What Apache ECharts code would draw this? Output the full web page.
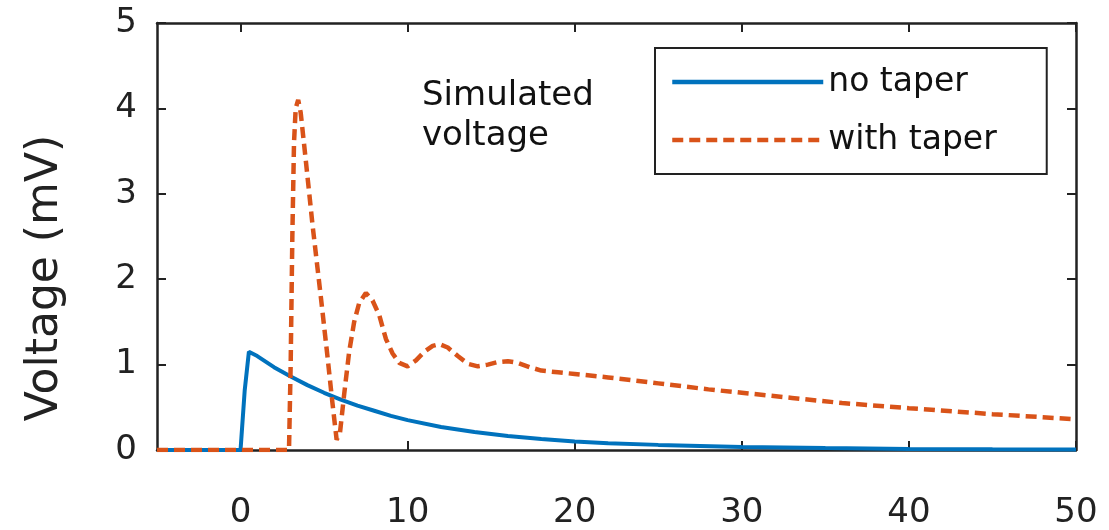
<!DOCTYPE html>
<html>
<head>
<meta charset="utf-8">
<script src="https://cdn.jsdelivr.net/npm/echarts@6/dist/echarts.min.js"></script>
<style>
  html, body { margin: 0; padding: 0; background: #fff; }
  #chart { width: 1109px; height: 530px; }
</style>
</head>
<body>
<div id="chart"></div>
<script>
'use strict';

// time (ms) and voltage (mV)
var noTaperT = [-5, 0, 0.25, 0.5, 1, 2, 3, 4, 5, 6, 7, 8, 9, 10, 12, 14, 16, 18, 20, 22, 25, 30, 35, 40, 45, 50];
var noTaperV = [0, 0, 0.7, 1.15, 1.1, 0.97, 0.86, 0.76, 0.67, 0.59, 0.52, 0.46, 0.40, 0.35, 0.27, 0.21, 0.165, 0.13, 0.10, 0.08, 0.06, 0.035, 0.022, 0.013, 0.008, 0.005];

var taperT = [-5, 2.9, 3.0, 3.1, 3.2, 3.3, 3.45, 3.6, 3.9, 4.3, 4.8, 5.2, 5.5, 5.75, 5.95, 6.2, 6.5, 6.8, 7.1, 7.5, 7.9, 8.3, 8.7, 9.1, 9.5, 10,
  10.5, 11, 11.5, 11.9, 12.4, 13, 13.6, 14.2, 14.8, 15.4, 16, 16.6, 17.3, 18, 19, 20, 22, 25, 28, 30, 33, 36, 40, 45, 50];
var taperV = [0, 0, 1.0, 2.5, 3.6, 4.0, 4.1, 3.95, 3.4, 2.65, 1.8, 1.1, 0.55, 0.12, 0.2, 0.65, 1.15, 1.5, 1.72, 1.84, 1.75, 1.58, 1.3, 1.13, 1.02, 0.98,
  1.05, 1.15, 1.22, 1.24, 1.2, 1.1, 1.01, 0.98, 1.0, 1.03, 1.04, 1.02, 0.97, 0.93, 0.91, 0.89, 0.85, 0.78, 0.71, 0.67, 0.61, 0.55, 0.49, 0.42, 0.36];

var xTicks = [0, 10, 20, 30, 40, 50];
var seriesNames = ['no taper', 'with taper'];

function zip(xs, ys) {
  return xs.map(function (x, i) { return [x, ys[i]]; });
}

var font = 'DejaVu Sans';
var axisLine = { show: true, onZero: false, lineStyle: { color: '#222', width: 2.5 } };
var tick = { show: true, inside: true, length: 9, lineStyle: { color: '#222', width: 2 } };

var chart = echarts.init(document.getElementById('chart'));
chart.setOption({
  animation: false,
  backgroundColor: '#fff',
  grid: { left: 157, right: 33, top: 23, bottom: 79 },
  legend: {
    orient: 'vertical',
    left: 655, top: 48,
    padding: [14, 50, 14, 15],
    itemGap: 18,
    itemWidth: 151,
    itemHeight: 14,
    borderColor: '#222',
    borderWidth: 2,
    itemStyle: { opacity: 0 },
    lineStyle: { width: 4.5, opacity: 1 },
    textStyle: { fontFamily: font, fontSize: 33, color: '#111', lineHeight: 40 },
    data: seriesNames
  },
  xAxis: [{
    type: 'value', min: -5, max: 50,
    axisLine: axisLine,
    axisTick: Object.assign({ customValues: xTicks }, tick),
    axisLabel: { customValues: xTicks, margin: 46, fontFamily: font, fontSize: 34, color: '#222' },
    splitLine: { show: false }
  }, {
    type: 'value', min: -5, max: 50, position: 'top',
    axisLine: axisLine,
    axisTick: Object.assign({ customValues: xTicks }, tick),
    axisLabel: { show: false },
    splitLine: { show: false }
  }],
  yAxis: [{
    type: 'value', min: 0, max: 5, interval: 1,
    axisLine: axisLine,
    axisTick: tick,
    axisLabel: { margin: 20, fontFamily: font, fontSize: 34, color: '#222' },
    splitLine: { show: false }
  }, {
    type: 'value', min: 0, max: 5, interval: 1, position: 'right',
    axisLine: axisLine,
    axisTick: tick,
    axisLabel: { show: false },
    splitLine: { show: false }
  }],
  graphic: [{
    type: 'text', x: 46, y: 278, rotation: Math.PI / 2,
    style: { text: 'Voltage (mV)', fontFamily: font, fontSize: 44, fill: '#222', align: 'center', verticalAlign: 'middle' }
  }, {
    type: 'text', left: 422, top: 76,
    style: { text: 'Simulated\nvoltage', fontFamily: font, fontSize: 34, lineHeight: 40, fill: '#111' }
  }],
  series: [{
    name: seriesNames[0], type: 'line', symbol: 'none',
    data: zip(noTaperT, noTaperV),
    lineStyle: { color: '#0072BD', width: 4 },
    itemStyle: { color: '#0072BD' }
  }, {
    name: seriesNames[1], type: 'line', symbol: 'none',
    data: zip(taperT, taperV),
    lineStyle: { color: '#D95319', width: 4.5, type: [11, 6] },
    itemStyle: { color: '#D95319' }
  }]
});
</script>
</body>
</html>
